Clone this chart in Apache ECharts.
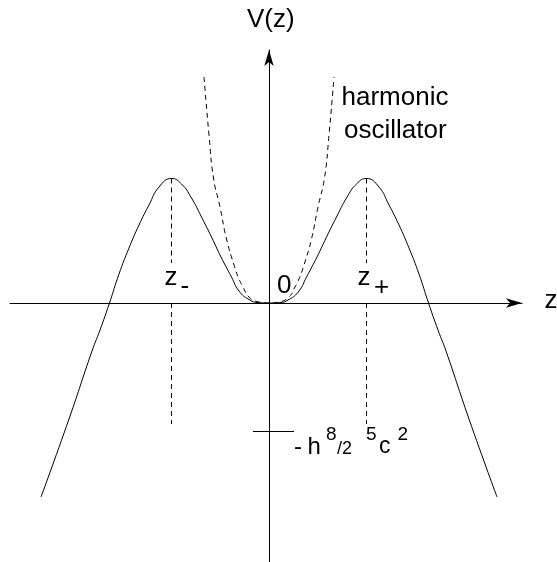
<!DOCTYPE html>
<html lang="en">
<head>
<meta charset="UTF-8">
<title>V(z)</title>
<style>
  html, body { margin: 0; padding: 0; background: #fff; }
  #main { width: 557px; height: 562px; }
</style>
<script src="https://cdn.jsdelivr.net/npm/echarts@6/dist/echarts.min.js"></script>
</head>
<body>
<div id="main"></div>
<script>
// potential V(z) (arbitrary units)
const zCurve = [-228, -200, -177, -169, -159.5, -150, -140, -130, -120, -110,
  -97.5, -87.5, -77.5, -67.5, -57.5, -48, -37.5, -30, -20, -10, 0,
  10, 20, 30, 37.5, 48, 57.5, 67.5, 77.5, 87.5, 97.5,
  110, 120, 130, 140, 150, 159.5, 169, 177, 200, 228];
const vCurve = [-194, -116, -48, -27, 0, 29, 55, 78, 98, 116,
  124.5, 119, 105, 86, 66, 46, 26, 12, 3.5, 0.3, 0,
  0.3, 3.5, 12, 26, 46, 66, 86, 105, 119, 124.5,
  116, 98, 78, 55, 29, 0, -27, -48, -116, -194];

// harmonic oscillator approximation (dashed)
const zHarm = [-65, -60, -55.5, -49, -42.5, -35, -30, -26, -20, -10, 0, 10, 20, 26, 30, 35, 42.5, 49, 55.5, 60, 65];
const vHarm = [226, 168, 125, 96, 64, 38, 24, 16, 6, 1, 0, 1, 6, 16, 24, 38, 64, 96, 125, 168, 226];

// dashed drop lines at z- and z+
const peakZ = [-97.5, 97.5];
const dropV = [124.5, 40, 0, -121];   // top, end of upper piece, start of lower piece, bottom

// tick on the V axis at -h^8/2^5c^2
const tickV = -128.5;
const tickZ = [-16, 25];

const chart = echarts.init(document.getElementById('main'));
const FONT = 'Liberation Sans, Arial, sans-serif';

function pairs(xs, ys) {
  return xs.map((x, i) => [x, ys[i]]);
}

function txt(str, x, y, size) {
  return {
    type: 'text', x: x, y: y, silent: true,
    style: {
      text: str, fontFamily: FONT, fontSize: size, fill: '#000',
      align: 'left', verticalAlign: 'middle',
      textAlign: 'left', textVerticalAlign: 'middle'
    }
  };
}

const lineBase = { type: 'line', showSymbol: false, symbol: 'none', silent: true, animation: false };

const series = [
  Object.assign({}, lineBase, {
    data: pairs(zCurve, vCurve), smooth: true,
    lineStyle: { color: '#000', width: 1 }
  }),
  Object.assign({}, lineBase, {
    data: pairs(zHarm, vHarm), smooth: true,
    lineStyle: { color: '#000', width: 1, type: [5, 4] }
  })
];

peakZ.forEach(z => {
  series.push(Object.assign({}, lineBase, {
    data: [[z, dropV[0]], [z, dropV[1]]],
    lineStyle: { color: '#000', width: 1, type: [5, 4] }
  }));
  series.push(Object.assign({}, lineBase, {
    data: [[z, dropV[2]], [z, dropV[3]]],
    lineStyle: { color: '#000', width: 1, type: [5, 4] }
  }));
});

series.push(Object.assign({}, lineBase, {
  data: [[tickZ[0], tickV], [tickZ[1], tickV]],
  lineStyle: { color: '#000', width: 1 }
}));

const axisCommon = {
  type: 'value',
  axisTick: { show: false },
  axisLabel: { show: false },
  splitLine: { show: false },
  axisLine: {
    onZero: true,
    symbol: ['none', 'arrow'],
    symbolSize: [7, 16],
    lineStyle: { color: '#000', width: 1 }
  }
};

chart.setOption({
  backgroundColor: '#fff',
  animation: false,
  grid: { left: 10, right: 35, top: 50, bottom: 0, containLabel: false },
  xAxis: Object.assign({}, axisCommon, { min: -259, max: 253 }),
  yAxis: Object.assign({}, axisCommon, { min: -259, max: 253 }),
  series: series,
  graphic: [
    txt('V(z)', 247, 19.5, 26),
    txt('z', 544.5, 301, 26),
    txt('0', 277, 286, 26),
    txt('harmonic', 341.5, 97.6, 26),
    txt('oscillator', 344, 131, 26),
    txt('z', 164.5, 277.6, 26),
    txt('-', 180.5, 287, 26),
    txt('z', 357.5, 277.6, 26),
    txt('+', 374, 288, 26),
    txt('-', 294, 447, 24),
    txt('h', 307.5, 447, 24),
    txt('8', 326, 435, 19),
    txt('/2', 337, 449, 18),
    txt('5', 366, 435, 19),
    txt('c', 379, 447, 23),
    txt('2', 397.5, 435, 19)
  ]
});
</script>
</body>
</html>
